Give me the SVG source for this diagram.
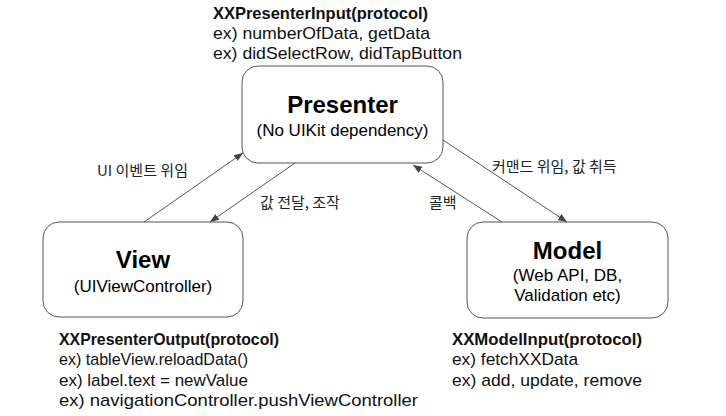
<svg xmlns="http://www.w3.org/2000/svg" width="726" height="416" viewBox="0 0 726 416">
<defs>
<style>
.box{fill:#fff;stroke:#555;stroke-width:1}
.title{font-family:"Liberation Sans",Arial,sans-serif;font-weight:bold;font-size:24px;fill:#000;text-anchor:middle}
.sub{font-family:"Liberation Sans",Arial,sans-serif;font-size:17px;fill:#000;text-anchor:middle}
.edge{stroke:#555;stroke-width:1;fill:none;marker-end:url(#arr)}
.elabel{font-family:"Noto Sans CJK KR","Liberation Sans",sans-serif;font-size:15px;fill:#222}
.note{font-family:"Liberation Sans",Arial,sans-serif;font-size:17px;fill:#111}
.noteb{font-weight:bold}
</style>
<marker id="arr" viewBox="0 0 10 10" refX="10" refY="5" markerWidth="9" markerHeight="9" markerUnits="userSpaceOnUse" orient="auto">
<path d="M0,1 L10,5 L0,9 Z" fill="#444"/>
</marker>
</defs>
<g id="presenter">
<rect class="box" x="242" y="66" width="201" height="97" rx="16"/>
<text class="title" x="342.5" y="113">Presenter</text>
<text class="sub" x="342.5" y="136">(No UIKit dependency)</text>
</g>
<g id="view">
<rect class="box" x="43" y="222" width="200" height="95" rx="16"/>
<text class="title" x="143" y="268">View</text>
<text class="sub" x="143" y="292">(UIViewController)</text>
</g>
<g id="model">
<rect class="box" x="467" y="222" width="201" height="96" rx="16"/>
<text class="title" x="567.5" y="259">Model</text>
<text class="sub" x="567.5" y="281">(Web API, DB,</text>
<text class="sub" x="567.5" y="301">Validation etc)</text>
</g>
<g id="connectors">
<line class="edge" x1="144" y1="222" x2="243" y2="153"/>
<line class="edge" x1="295" y1="163" x2="210" y2="222"/>
<line class="edge" x1="443" y1="140" x2="567" y2="222"/>
<line class="edge" x1="502" y1="222" x2="413" y2="165"/>
<text class="elabel" x="97" y="176">UI 이벤트 위임</text>
<text class="elabel" x="260" y="208">값 전달, 조작</text>
<text class="elabel" x="492" y="172">커맨드 위임, 값 취득</text>
<text class="elabel" x="429" y="208">콜백</text>
</g>
<g id="presenter-input">
<text class="note noteb" x="213" y="19" textLength="215" lengthAdjust="spacingAndGlyphs">XXPresenterInput(protocol)</text>
<text class="note" x="213" y="39" textLength="217" lengthAdjust="spacingAndGlyphs">ex) numberOfData, getData</text>
<text class="note" x="213" y="59" textLength="249" lengthAdjust="spacingAndGlyphs">ex) didSelectRow, didTapButton</text>
</g>
<g id="presenter-output">
<text class="note noteb" x="59" y="345" textLength="220" lengthAdjust="spacingAndGlyphs">XXPresenterOutput(protocol)</text>
<text class="note" x="59" y="365" textLength="189" lengthAdjust="spacingAndGlyphs">ex) tableView.reloadData()</text>
<text class="note" x="59" y="386" textLength="189" lengthAdjust="spacingAndGlyphs">ex) label.text = newValue</text>
<text class="note" x="59" y="406" textLength="359" lengthAdjust="spacingAndGlyphs">ex) navigationController.pushViewController</text>
</g>
<g id="model-input">
<text class="note noteb" x="452" y="345" textLength="190" lengthAdjust="spacingAndGlyphs">XXModelInput(protocol)</text>
<text class="note" x="452" y="365" textLength="126" lengthAdjust="spacingAndGlyphs">ex) fetchXXData</text>
<text class="note" x="452" y="386" textLength="190" lengthAdjust="spacingAndGlyphs">ex) add, update, remove</text>
</g>
</svg>
